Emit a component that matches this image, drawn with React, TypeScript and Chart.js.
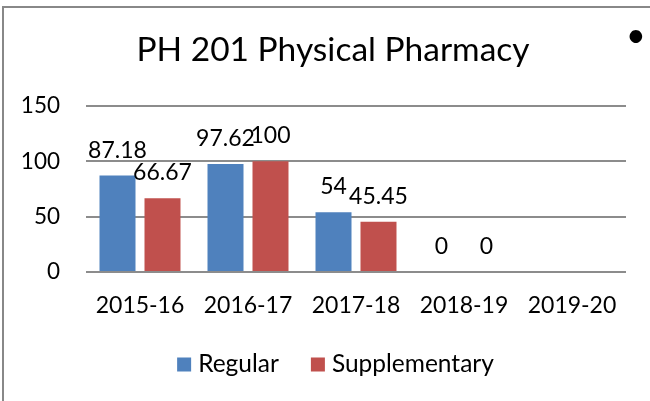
import React, { useEffect, useRef } from "react";
import { Chart, registerables } from "chart.js";

Chart.register(...registerables);

const categories = ["2015-16", "2016-17", "2017-18", "2018-19", "2019-20"];
const regular = [87.18, 97.62, 54, 0, null];
const supplementary = [66.67, 100, 45.45, 0, null];
const yTicks = [0, 50, 100, 150];
const titleText = "PH 201 Physical Pharmacy";
const seriesNames = ["Regular", "Supplementary"];
const seriesColors = ["#4F81BD", "#C0504D"];

const FONT = "Lato, 'Open Sans', sans-serif";

const valueLabels = {
  id: "valueLabels",
  afterDatasetsDraw(chart: any) {
    const ctx = chart.ctx;
    ctx.save();
    ctx.font = `23px ${FONT}`;
    ctx.fillStyle = "#000";
    ctx.textAlign = "center";
    ctx.textBaseline = "alphabetic";
    chart.data.datasets.forEach((ds: any, i: number) => {
      const meta = chart.getDatasetMeta(i);
      meta.data.forEach((el: any, j: number) => {
        const v = ds.data[j];
        if (v === null || v === undefined) return;
        ctx.fillText(String(v), el.x, el.y - 18);
      });
    });
    ctx.restore();
  },
};

// Legend drawn from the chart's datasets (label + colour)
const bottomLegend = {
  id: "bottomLegend",
  afterDraw(chart: any) {
    const ctx = chart.ctx;
    const box = 14;
    const gap = 7;
    const spacing = 32;
    ctx.save();
    ctx.font = `24.5px ${FONT}`;
    const items = chart.data.datasets.map((ds: any) => ({
      text: ds.label,
      color: ds.backgroundColor,
      w: ctx.measureText(ds.label).width,
    }));
    const total =
      items.reduce((a: number, it: any) => a + box + gap + it.w, 0) +
      spacing * (items.length - 1);
    let x = 335.5 - total / 2;
    const cy = 364.5;
    items.forEach((it: any) => {
      ctx.fillStyle = it.color;
      ctx.fillRect(x, cy - box / 2, box, box);
      ctx.fillStyle = "#000";
      ctx.textAlign = "left";
      ctx.textBaseline = "middle";
      ctx.fillText(it.text, x + box + gap, cy);
      x += box + gap + it.w + spacing;
    });
    ctx.restore();
  },
};

export default function App() {
  const ref = useRef<HTMLCanvasElement>(null);
  useEffect(() => {
    if (!ref.current) return;
    const chart = new Chart(ref.current, {
      type: "bar",
      data: {
        labels: categories,
        datasets: [
          {
            label: seriesNames[0],
            data: regular,
            backgroundColor: seriesColors[0],
            categoryPercentage: 0.8333,
            barPercentage: 0.8,
            yAxisID: "y",
          },
          {
            label: seriesNames[1],
            data: supplementary,
            backgroundColor: seriesColors[1],
            categoryPercentage: 0.8333,
            barPercentage: 0.8,
            yAxisID: "y",
          },
        ],
      },
      options: {
        responsive: false,
        animation: false,
        layout: { padding: { left: 16, right: 0, top: 0, bottom: 81 } },
        plugins: {
          title: {
            display: true,
            text: titleText,
            color: "#000",
            font: { family: FONT, size: 33.5, weight: "normal" },
            padding: { top: 30, bottom: 35.8 },
          },
          legend: { display: false },
          tooltip: { enabled: false },
        },
        scales: {
          x: {
            grid: { display: false, drawTicks: false },
            border: { display: false },
            ticks: {
              color: "#000",
              font: { family: FONT, size: 23 },
              padding: 20,
              maxRotation: 0,
            },
            afterFit(s: any) {
              s.height = 48;
            },
          },
          y: {
            min: 0,
            max: 150,
            afterBuildTicks(s: any) {
              s.ticks = yTicks.map((v) => ({ value: v }));
            },
            grid: { color: "#8c8c8c", lineWidth: 2, drawTicks: false },
            border: { display: false },
            ticks: {
              color: "#000",
              font: { family: FONT, size: 22.5 },
              padding: 26,
            },
            afterFit(s: any) {
              s.width = 70;
            },
          },
          yR: {
            position: "right",
            display: true,
            grid: { display: false, drawTicks: false },
            border: { display: false },
            ticks: { display: false },
            afterFit(s: any) {
              s.width = 24;
            },
          },
        },
      },
      plugins: [valueLabels, bottomLegend],
    });
    return () => chart.destroy();
  }, []);

  return (
    <div
      style={{
        position: "fixed",
        left: 0,
        top: 0,
        width: 650,
        height: 401,
        overflow: "hidden",
        background: "#fff",
      }}
    >
      <div
        style={{
          position: "absolute",
          left: 2,
          top: 6,
          width: 700,
          height: 500,
          borderLeft: "2px solid #888",
          borderTop: "2px solid #888",
        }}
      />
      <canvas
        ref={ref}
        width={650}
        height={401}
        style={{ position: "absolute", left: 0, top: 0 }}
      />
      <div
        style={{
          position: "absolute",
          left: 626,
          top: 14,
          fontFamily: FONT,
          fontSize: 34,
          lineHeight: "40px",
          color: "#000",
        }}
      >
        •
      </div>
    </div>
  );
}
